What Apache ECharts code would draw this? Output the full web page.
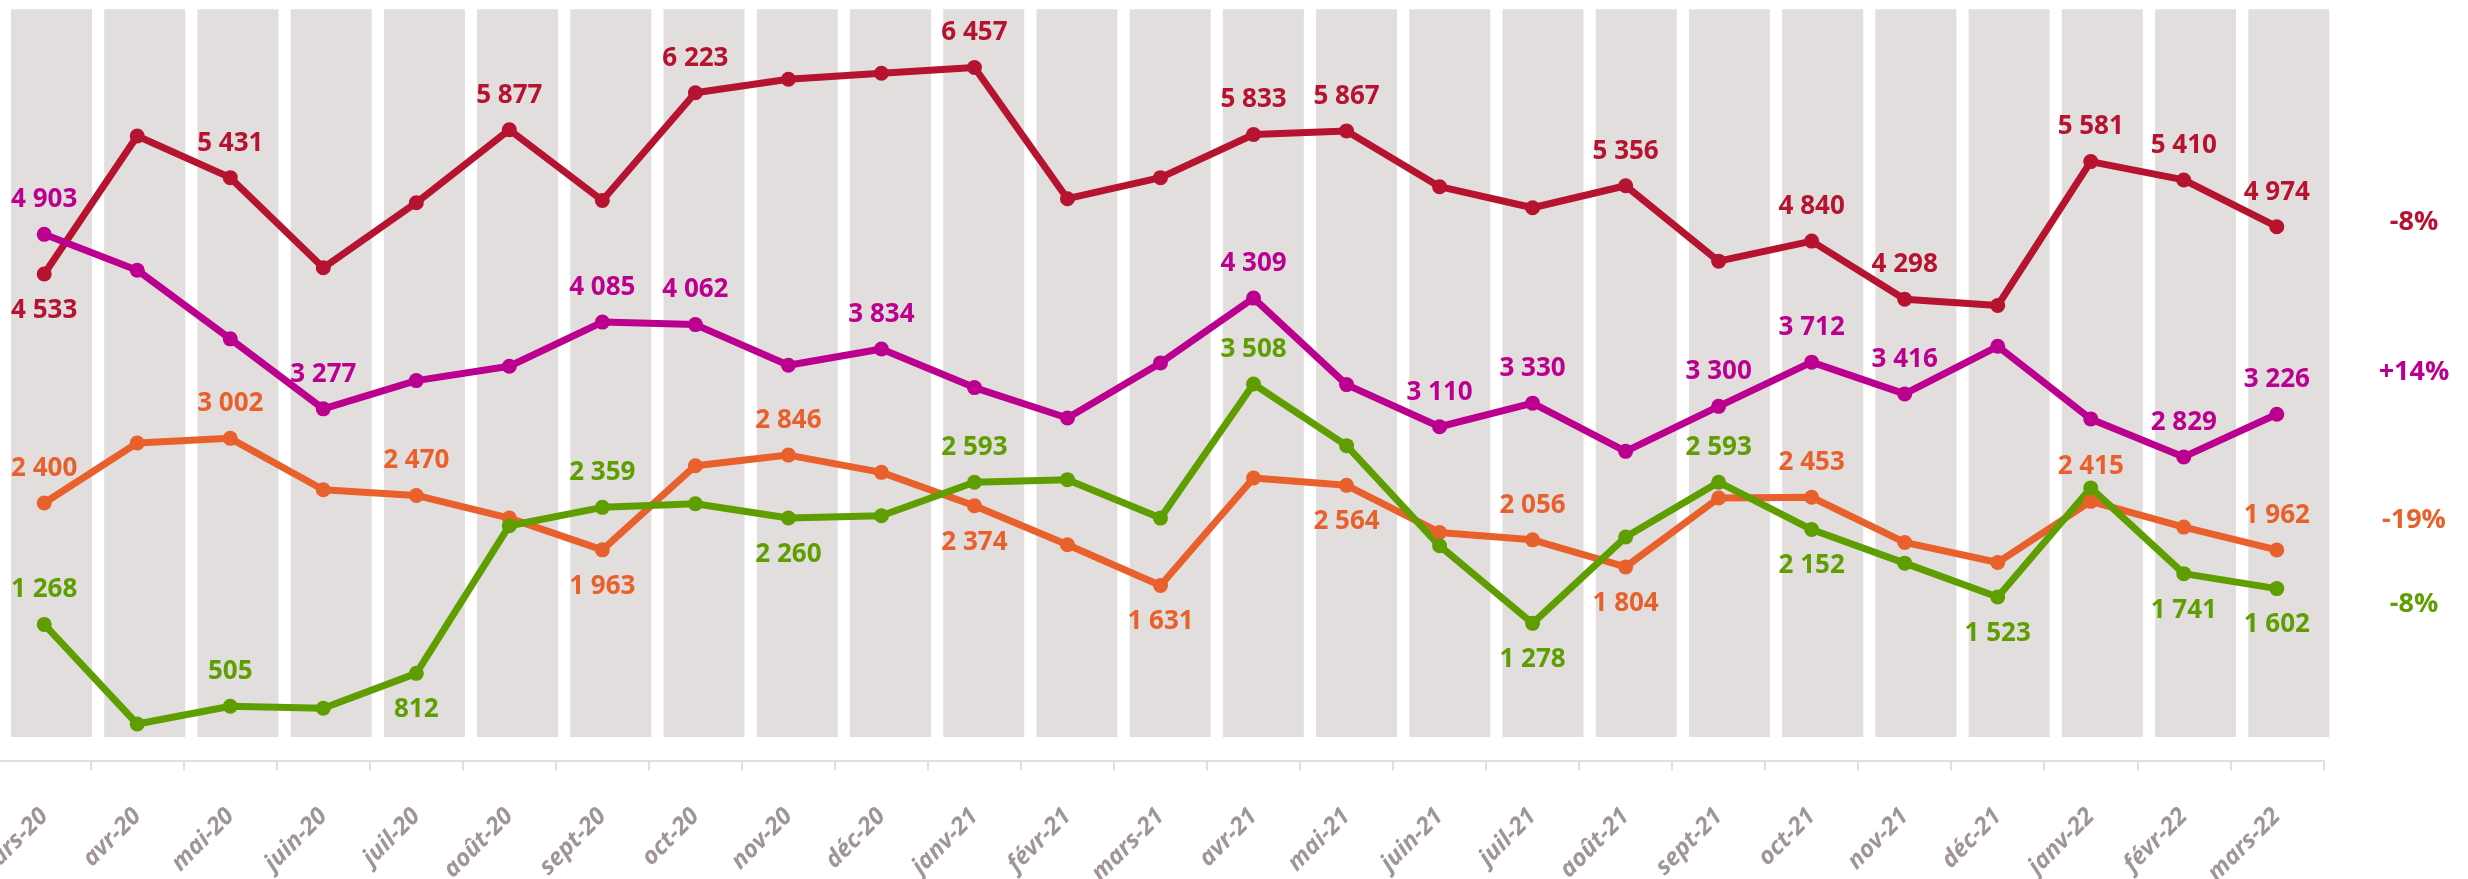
<!DOCTYPE html>
<html>
<head>
<meta charset="utf-8">
<script src="https://cdn.jsdelivr.net/npm/echarts@6/dist/echarts.min.js"></script>
<style>
html,body{margin:0;padding:0;background:#fff;}
#chart{width:2468px;height:879px;}
</style>
</head>
<body>
<div id="chart"></div>
<script>
const categories = ['mars-20','avr-20','mai-20','juin-20','juil-20','août-20','sept-20','oct-20','nov-20','déc-20','janv-21','févr-21','mars-21','avr-21','mai-21','juin-21','juil-21','août-21','sept-21','oct-21','nov-21','déc-21','janv-22','févr-22','mars-22'];

const redValues     = [4533,5819,5431,4591,5198,5877,5219,6223,6348,6404,6457,5235,5431,5833,5867,5347,5151,5356,4653,4840,4298,4240,5581,5410,4974];
const magentaValues = [4903,4569,3929,3277,3540,3674,4085,4062,3683,3834,3475,3192,3705,4309,3503,3110,3330,2881,3300,3712,3416,3860,3183,2829,3226];
const orangeValues  = [2400,2959,3002,2523,2470,2259,1963,2747,2846,2685,2374,2010,1631,2632,2564,2125,2056,1804,2446,2453,2032,1845,2415,2175,1962];
const greenValues   = [1268,340,505,487,812,2188,2359,2393,2260,2281,2593,2617,2259,3508,2934,2001,1278,2082,2593,2152,1839,1523,2540,1741,1602];

// which points carry a value label: t = above, b = below, '' = none
const redLabelSide     = ['b','','t','','','t','','t','','','t','','','t','t','','','t','','t','t','','t','t','t'];
const magentaLabelSide = ['t','','','t','','','t','t','','t','','','','t','','t','t','','t','t','t','','','t','t'];
const orangeLabelSide  = ['t','','t','','t','','b','','t','','b','','b','','b','','t','b','','t','','','t','','t'];
const greenLabelSide   = ['t','','t','','b','','t','','b','','t','','','t','','','b','','t','b','','b','','b','b'];

const changeLabels = ['-8%','+14%','-19%','-8%'];

// decorative background columns (value range covered)
const bandBottom = 220;
const bandTop = 7030;

const colors = {red:'#b5132f', magenta:'#bb008f', orange:'#e8612c', green:'#5e9e00', band:'#e2dedd', axis:'#e4dcdd', tick:'#a09596'};
const FONT = '"Open Sans", "Liberation Sans", sans-serif';

function fmt(v){ return String(v).replace(/\B(?=(\d{3})+(?!\d))/g,' '); }

function buildData(values, sides){
  return values.map((v,i)=>{
    const s = sides[i];
    if(!s) return v;
    return {value:v, label:{show:true, position: s==='t'?'top':'bottom', distance: s==='t'?14:16}};
  });
}

function lineSeries(name, values, sides, color){
  return {
    name, type:'line', xAxisIndex:0, yAxisIndex:0,
    data: buildData(values, sides),
    symbol:'circle', symbolSize:15,
    lineStyle:{color:color, width:7},
    itemStyle:{color:color},
    label:{show:false, color:color, fontFamily:FONT, fontWeight:'bold', fontSize:26, formatter:p=>fmt(p.value)},
    emphasis:{disabled:true},
    z:3
  };
}

const chart = echarts.init(document.getElementById('chart'), null, {renderer:'canvas'});
const gridTop = 9.3, gridBottom = 118.5;
chart.setOption({
  animation:false,
  backgroundColor:'#ffffff',
  grid:[
    {left:-2.3, right:144.7, top:gridTop, bottom:gridBottom, outerBoundsMode:'none', containLabel:false},
    {left:4.9, right:132.6, top:gridTop, bottom:gridBottom, outerBoundsMode:'none', containLabel:false}
  ],
  xAxis:[
    {type:'category', gridIndex:0, data:categories, boundaryGap:true,
     axisLine:{show:true, lineStyle:{color:colors.axis, width:2}},
     axisTick:{show:true, length:10, lineStyle:{color:colors.axis, width:2}},
     axisLabel:{show:true, rotate:45, interval:0, margin:52, color:colors.tick,
       fontFamily:'Open Sans', fontStyle:'italic', fontWeight:'bold', fontSize:24,
       hideOverlap:false, overflow:'none'},
     splitLine:{show:false}},
    {type:'category', gridIndex:1, data:categories, show:false}
  ],
  yAxis:[
    {type:'value', gridIndex:0, min:0, max:7000, show:false, splitLine:{show:false}},
    {type:'value', gridIndex:1, min:0, max:7000, show:false, splitLine:{show:false}}
  ],
  series:[
    {type:'bar', xAxisIndex:1, yAxisIndex:1, stack:'band', data:categories.map(()=>bandBottom), barWidth:81,
     itemStyle:{color:'rgba(0,0,0,0)'}, silent:true, z:1},
    {type:'bar', xAxisIndex:1, yAxisIndex:1, stack:'band', data:categories.map(()=>bandTop-bandBottom), barWidth:81,
     itemStyle:{color:colors.band}, silent:true, z:1},
    lineSeries('rouge', redValues, redLabelSide, colors.red),
    lineSeries('magenta', magentaValues, magentaLabelSide, colors.magenta),
    lineSeries('orange', orangeValues, orangeLabelSide, colors.orange),
    lineSeries('vert', greenValues, greenLabelSide, colors.green)
  ],
  graphic:[
    {type:'text', x:2414, y:222, style:{text:changeLabels[0], fill:colors.red, font:'bold 27px '+FONT, align:'center', verticalAlign:'middle'}},
    {type:'text', x:2414, y:372, style:{text:changeLabels[1], fill:colors.magenta, font:'bold 27px '+FONT, align:'center', verticalAlign:'middle'}},
    {type:'text', x:2414, y:520, style:{text:changeLabels[2], fill:colors.orange, font:'bold 27px '+FONT, align:'center', verticalAlign:'middle'}},
    {type:'text', x:2414, y:604, style:{text:changeLabels[3], fill:colors.green, font:'bold 27px '+FONT, align:'center', verticalAlign:'middle'}}
  ]
});
</script>
</body>
</html>
